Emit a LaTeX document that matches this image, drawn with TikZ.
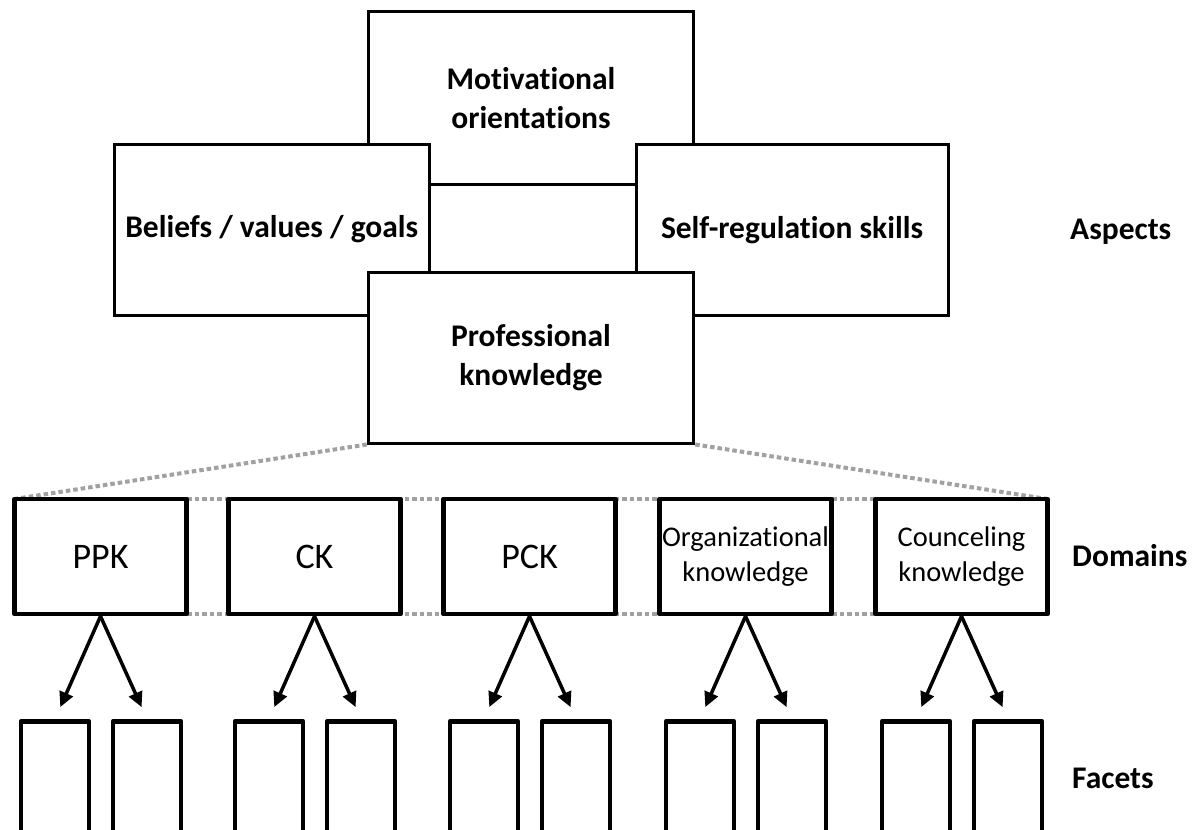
\documentclass[tikz,border=0pt]{standalone}
\usepackage{fontspec}
\setmainfont{Carlito}[Ligatures=NoCommon]
\usetikzlibrary{arrows.meta}
\begin{document}
\begin{tikzpicture}[x=1pt,y=-1pt,
  aspect/.style={draw, line width=3pt, fill=white, align=center, inner sep=0pt,
    font=\fontsize{31.5}{38.5}\selectfont\bfseries},
  dombox/.style={draw, line width=4.5pt, fill=white, align=center, inner sep=0pt,
    minimum width=172pt, minimum height=115pt, line join=round},
  big/.style={font=\fontsize{36}{43}\selectfont},
  small/.style={font=\fontsize{28.5}{34.5}\selectfont},
  facet/.style={draw, line width=4.5pt, fill=white, inner sep=0pt, anchor=north,
    minimum width=68pt, minimum height=160pt, line join=round},
  dots/.style={draw=black!37, line width=4pt, dash pattern=on 4.5pt off 3pt},
  arr/.style={line width=3.5pt, -{Triangle[length=15pt,width=14pt]}},
  lab/.style={font=\fontsize{31.5}{38}\selectfont\bfseries, anchor=west, inner sep=0pt}
]
\useasboundingbox (0,0) rectangle (1197,830);
\clip (0,0) rectangle (1197,830);

% Aspects
\node[aspect, minimum width=325.5pt, minimum height=172.5pt] (mot) at (531,98) {Motivational\\orientations};
\node[aspect, minimum width=314.5pt, minimum height=171pt] (bel) at (271.75,229.5) {Beliefs / values / goals};
\node[aspect, minimum width=312pt, minimum height=171.5pt] (self) at (792,230) {Self-regulation skills};
\node[aspect, minimum width=325.5pt, minimum height=171pt] (prof) at (531,357.5) {Professional\\knowledge};

% Domain positions and dotted guide lines
\coordinate (c1) at (100.5,556.5);
\coordinate (c2) at (314.5,556.5);
\coordinate (c3) at (529.5,556.5);
\coordinate (c4) at (745.5,556.5);
\coordinate (c5) at (961.5,556.5);
\coordinate (tl) at (14.5,499);
\coordinate (tr) at (1047.5,499);
\coordinate (bl) at (14.5,614);
\coordinate (br) at (1047.5,614);

\draw[dots] (prof.south west) -- (tl);
\draw[dots] (prof.south east) -- (tr);
\draw[dots] (tl) -- (tr);
\draw[dots] (bl) -- (br);

\node[dombox, big] (ppk) at (c1) {PPK};
\node[dombox, big] (ck) at (c2) {CK};
\node[dombox, big] (pck) at (c3) {PCK};
\node[dombox, small] (org) at (c4) {Organizational\\knowledge};
\node[dombox, small] (cou) at (c5) {Counceling\\knowledge};

% Facets
\foreach \d/\x in {ppk/100.5, ck/314.5, pck/529.5, org/745.5, cou/961.5}{
  \node[facet] (\d a) at (\x-45.5,719) {};
  \node[facet] (\d b) at (\x+46.5,719) {};
  \draw[arr, shorten >=13pt] (\d.south) -- (\d a.north);
  \draw[arr, shorten >=13pt] (\d.south) -- (\d b.north);
}

% Labels
\node[lab] (asp) at (1070,232) {Aspects};
\node[lab] (dom) at (1072,556) {Domains};
\node[lab] (fac) at (1072,778) {Facets};
\end{tikzpicture}
\end{document}
